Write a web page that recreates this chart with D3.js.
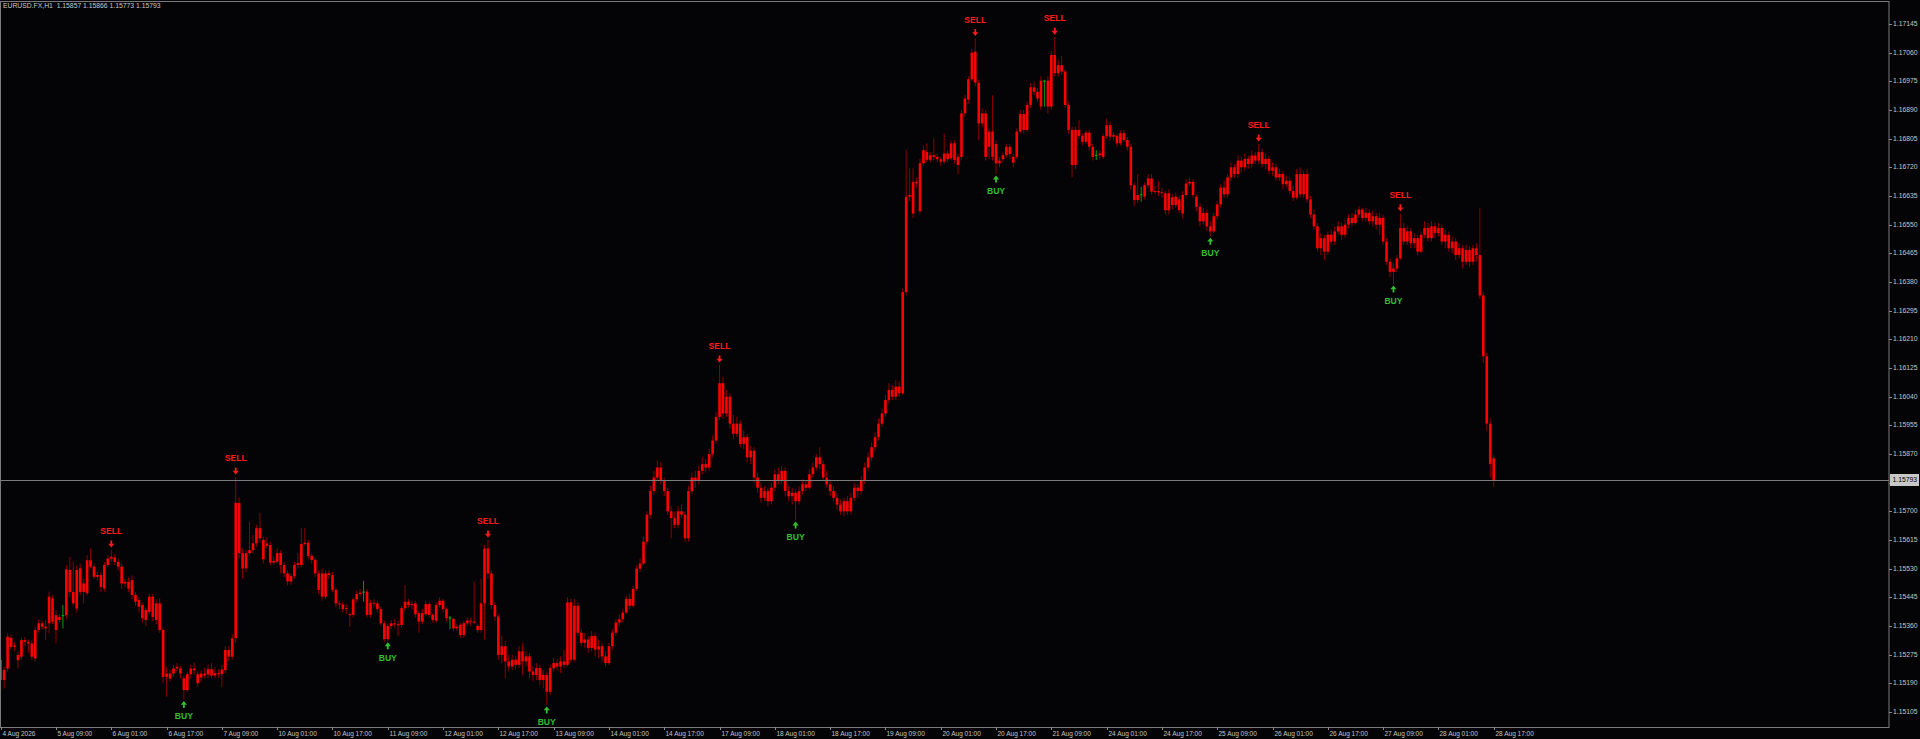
<!DOCTYPE html>
<html><head><meta charset="utf-8">
<script src="https://cdn.jsdelivr.net/npm/d3@7"></script>
<style>html,body{margin:0;padding:0;background:#040406;overflow:hidden}</style>
</head><body><svg id="c" width="1920" height="739"></svg>
<script>
const symbolTitle = "EURUSD.FX,H1  1.15857 1.15866 1.15773 1.15793";
const lastPrice = 1.15793;
const priceTicks = [1.17145,1.17060,1.16975,1.16890,1.16805,1.16720,1.16635,1.16550,1.16465,1.16380,1.16295,1.16210,1.16125,1.16040,1.15955,1.15870,1.15785,1.15700,1.15615,1.15530,1.15445,1.15360,1.15275,1.15190,1.15105];
const timeLabels = ["4 Aug 2026","5 Aug 09:00","6 Aug 01:00","6 Aug 17:00","7 Aug 09:00","10 Aug 01:00","10 Aug 17:00","11 Aug 09:00","12 Aug 01:00","12 Aug 17:00","13 Aug 09:00","14 Aug 01:00","14 Aug 17:00","17 Aug 09:00","18 Aug 01:00","18 Aug 17:00","19 Aug 09:00","20 Aug 01:00","20 Aug 17:00","21 Aug 09:00","24 Aug 01:00","24 Aug 17:00","25 Aug 09:00","26 Aug 01:00","26 Aug 17:00","27 Aug 09:00","28 Aug 01:00","28 Aug 17:00"];
const timeLabelBars = [0,16,32,48,64,80,96,112,128,144,160,176,192,208,224,240,256,272,288,304,320,336,352,368,384,400,416,432];

const opens = [
1.15259,1.15200,1.15234,1.15325,1.15298,1.15274,1.15269,1.15318,1.15313,1.15308,
1.15264,1.15348,1.15368,1.15358,1.15368,1.15442,1.15392,1.15378,1.15390,1.15392,
1.15526,1.15461,1.15412,1.15531,1.15461,1.15457,1.15555,1.15536,1.15506,1.15511,
1.15471,1.15541,1.15560,1.15563,1.15550,1.15536,1.15486,1.15491,1.15452,1.15452,
1.15437,1.15422,1.15378,1.15402,1.15447,1.15378,1.15427,1.15348,1.15209,1.15219,
1.15219,1.15234,1.15234,1.15205,1.15170,1.15217,1.15234,1.15217,1.15207,1.15219,
1.15216,1.15232,1.15213,1.15220,1.15217,1.15229,1.15289,1.15269,1.15324,1.15725,
1.15576,1.15531,1.15576,1.15585,1.15605,1.15650,1.15615,1.15598,1.15600,1.15548,
1.15551,1.15576,1.15541,1.15516,1.15492,1.15508,1.15541,1.15541,1.15603,1.15607,
1.15568,1.15556,1.15516,1.15447,1.15516,1.15511,1.15511,1.15467,1.15427,1.15424,
1.15410,1.15395,1.15393,1.15439,1.15455,1.15459,1.15462,1.15393,1.15429,1.15427,
1.15410,1.15368,1.15321,1.15360,1.15368,1.15365,1.15363,1.15413,1.15432,1.15422,
1.15427,1.15398,1.15373,1.15395,1.15425,1.15393,1.15376,1.15422,1.15435,1.15410,
1.15383,1.15381,1.15353,1.15363,1.15333,1.15368,1.15376,1.15373,1.15360,1.15348,
1.15427,1.15590,1.15516,1.15422,1.15388,1.15274,1.15300,1.15255,1.15240,1.15260,
1.15245,1.15285,1.15255,1.15270,1.15225,1.15215,1.15235,1.15200,1.15215,1.15165,
1.15235,1.15250,1.15240,1.15255,1.15245,1.15430,1.15260,1.15420,1.15340,1.15310,
1.15320,1.15295,1.15330,1.15290,1.15300,1.15270,1.15250,1.15300,1.15340,1.15370,
1.15380,1.15400,1.15440,1.15420,1.15470,1.15530,1.15545,1.15610,1.15690,1.15760,
1.15800,1.15830,1.15790,1.15760,1.15700,1.15680,1.15660,1.15700,1.15690,1.15620,
1.15760,1.15800,1.15790,1.15820,1.15840,1.15830,1.15870,1.15910,1.15980,1.16080,
1.15990,1.16040,1.15960,1.15930,1.15960,1.15900,1.15920,1.15860,1.15880,1.15800,
1.15770,1.15740,1.15760,1.15730,1.15770,1.15810,1.15790,1.15820,1.15760,1.15745,
1.15755,1.15730,1.15760,1.15780,1.15770,1.15810,1.15830,1.15860,1.15840,1.15800,
1.15780,1.15760,1.15740,1.15720,1.15700,1.15730,1.15700,1.15740,1.15770,1.15760,
1.15790,1.15830,1.15860,1.15890,1.15920,1.15960,1.15990,1.16030,1.16060,1.16040,
1.16070,1.16050,1.16350,1.16638,1.16583,1.16677,1.16590,1.16732,1.16766,1.16742,
1.16756,1.16751,1.16744,1.16737,1.16761,1.16747,1.16791,1.16751,1.16751,1.16880,
1.16921,1.16981,1.17063,1.16971,1.16850,1.16880,1.16781,1.16826,1.16789,1.16732,
1.16744,1.16756,1.16781,1.16751,1.16751,1.16826,1.16878,1.16831,1.16905,1.16957,
1.16944,1.16900,1.16977,1.16977,1.16900,1.17053,1.16999,1.17023,1.17004,1.16905,
1.16831,1.16727,1.16831,1.16813,1.16796,1.16823,1.16781,1.16755,1.16756,1.16751,
1.16813,1.16845,1.16811,1.16813,1.16791,1.16821,1.16801,1.16781,1.16667,1.16623,
1.16638,1.16633,1.16667,1.16687,1.16648,1.16650,1.16646,1.16643,1.16593,1.16631,
1.16608,1.16625,1.16583,1.16638,1.16672,1.16677,1.16633,1.16603,1.16560,1.16585,
1.16545,1.16530,1.16575,1.16610,1.16660,1.16640,1.16690,1.16720,1.16700,1.16740,
1.16720,1.16745,1.16730,1.16755,1.16740,1.16765,1.16730,1.16745,1.16710,1.16720,
1.16690,1.16700,1.16670,1.16680,1.16650,1.16630,1.16700,1.16640,1.16700,1.16625,
1.16580,1.16545,1.16480,1.16510,1.16470,1.16520,1.16500,1.16530,1.16545,1.16520,
1.16550,1.16570,1.16555,1.16580,1.16595,1.16570,1.16585,1.16560,1.16575,1.16550,
1.16570,1.16500,1.16440,1.16410,1.16420,1.16450,1.16540,1.16500,1.16530,1.16495,
1.16510,1.16470,1.16520,1.16540,1.16510,1.16545,1.16525,1.16540,1.16500,1.16520,
1.16480,1.16500,1.16460,1.16480,1.16440,1.16475,1.16440,1.16480,1.16460,1.16340,
1.16160,1.15960,1.15857];
const highs = [
1.15275,1.15240,1.15338,1.15335,1.15312,1.15284,1.15325,1.15328,1.15320,1.15318,
1.15358,1.15380,1.15375,1.15378,1.15462,1.15452,1.15407,1.15395,1.15422,1.15540,
1.15565,1.15550,1.15540,1.15545,1.15501,1.15570,1.15590,1.15545,1.15520,1.15520,
1.15550,1.15570,1.15585,1.15572,1.15560,1.15545,1.15500,1.15505,1.15510,1.15460,
1.15445,1.15430,1.15415,1.15455,1.15455,1.15440,1.15442,1.15355,1.15239,1.15230,
1.15245,1.15250,1.15242,1.15212,1.15225,1.15245,1.15252,1.15225,1.15228,1.15235,
1.15245,1.15250,1.15238,1.15232,1.15245,1.15300,1.15300,1.15335,1.15802,1.15740,
1.15590,1.15585,1.15670,1.15630,1.15660,1.15696,1.15625,1.15623,1.15610,1.15565,
1.15590,1.15585,1.15550,1.15525,1.15515,1.15550,1.15576,1.15650,1.15650,1.15615,
1.15575,1.15562,1.15525,1.15530,1.15525,1.15525,1.15520,1.15475,1.15435,1.15432,
1.15425,1.15400,1.15445,1.15465,1.15470,1.15494,1.15470,1.15438,1.15440,1.15435,
1.15418,1.15375,1.15368,1.15378,1.15380,1.15375,1.15420,1.15482,1.15440,1.15435,
1.15435,1.15405,1.15410,1.15435,1.15432,1.15398,1.15430,1.15445,1.15440,1.15415,
1.15390,1.15385,1.15365,1.15370,1.15375,1.15385,1.15385,1.15492,1.15365,1.15500,
1.15600,1.15615,1.15525,1.15430,1.15395,1.15330,1.15315,1.15275,1.15275,1.15270,
1.15300,1.15310,1.15285,1.15280,1.15240,1.15250,1.15245,1.15230,1.15225,1.15245,
1.15265,1.15262,1.15270,1.15290,1.15445,1.15440,1.15440,1.15430,1.15350,1.15340,
1.15330,1.15345,1.15340,1.15320,1.15310,1.15285,1.15310,1.15350,1.15380,1.15395,
1.15410,1.15450,1.15455,1.15480,1.15540,1.15560,1.15625,1.15700,1.15775,1.15820,
1.15850,1.15845,1.15800,1.15770,1.15715,1.15700,1.15715,1.15720,1.15700,1.15775,
1.15815,1.15820,1.15835,1.15860,1.15855,1.15885,1.15925,1.15995,1.16134,1.16100,
1.16060,1.16050,1.15985,1.15980,1.15970,1.15940,1.15930,1.15895,1.15890,1.15815,
1.15785,1.15775,1.15770,1.15785,1.15825,1.15830,1.15835,1.15830,1.15775,1.15770,
1.15765,1.15775,1.15795,1.15790,1.15825,1.15845,1.15870,1.15890,1.15850,1.15820,
1.15795,1.15775,1.15755,1.15735,1.15740,1.15745,1.15755,1.15785,1.15780,1.15805,
1.15845,1.15875,1.15905,1.15935,1.15975,1.16005,1.16045,1.16080,1.16075,1.16090,
1.16085,1.16360,1.16773,1.16717,1.16717,1.16690,1.16745,1.16785,1.16791,1.16765,
1.16806,1.16760,1.16750,1.16821,1.16770,1.16800,1.16800,1.16760,1.16890,1.16935,
1.16990,1.17070,1.17102,1.16980,1.16895,1.16890,1.16835,1.16934,1.16800,1.16750,
1.16765,1.16790,1.16790,1.16760,1.16835,1.16890,1.16890,1.16915,1.16970,1.16975,
1.16955,1.16990,1.16979,1.16990,1.17065,1.17106,1.17040,1.17050,1.17010,1.16915,
1.16840,1.16840,1.16860,1.16820,1.16830,1.16830,1.16790,1.16771,1.16770,1.16820,
1.16865,1.16855,1.16825,1.16820,1.16830,1.16830,1.16810,1.16790,1.16675,1.16700,
1.16663,1.16675,1.16700,1.16700,1.16665,1.16680,1.16660,1.16650,1.16655,1.16640,
1.16645,1.16635,1.16650,1.16685,1.16690,1.16685,1.16640,1.16615,1.16600,1.16595,
1.16560,1.16585,1.16620,1.16670,1.16680,1.16700,1.16735,1.16730,1.16755,1.16750,
1.16760,1.16755,1.16770,1.16765,1.16789,1.16775,1.16760,1.16755,1.16735,1.16730,
1.16715,1.16710,1.16695,1.16690,1.16665,1.16715,1.16720,1.16710,1.16715,1.16635,
1.16595,1.16555,1.16525,1.16520,1.16530,1.16535,1.16545,1.16560,1.16555,1.16565,
1.16580,1.16585,1.16595,1.16605,1.16600,1.16600,1.16595,1.16590,1.16585,1.16585,
1.16580,1.16510,1.16450,1.16435,1.16460,1.16582,1.16555,1.16545,1.16540,1.16525,
1.16520,1.16530,1.16560,1.16555,1.16560,1.16555,1.16555,1.16550,1.16535,1.16530,
1.16515,1.16510,1.16495,1.16490,1.16490,1.16485,1.16490,1.16495,1.16600,1.16350,
1.16170,1.15975,1.15866];
const lows = [
1.15165,1.15175,1.15225,1.15290,1.15285,1.15234,1.15260,1.15300,1.15280,1.15260,
1.15255,1.15340,1.15350,1.15318,1.15338,1.15365,1.15308,1.15370,1.15353,1.15380,
1.15447,1.15420,1.15400,1.15450,1.15427,1.15450,1.15530,1.15500,1.15495,1.15460,
1.15462,1.15535,1.15550,1.15540,1.15525,1.15470,1.15475,1.15460,1.15440,1.15420,
1.15400,1.15370,1.15360,1.15395,1.15375,1.15365,1.15340,1.15190,1.15150,1.15195,
1.15210,1.15225,1.15205,1.15142,1.15165,1.15205,1.15215,1.15180,1.15195,1.15205,
1.15205,1.15205,1.15205,1.15206,1.15180,1.15220,1.15255,1.15260,1.15310,1.15560,
1.15501,1.15520,1.15570,1.15575,1.15595,1.15610,1.15545,1.15590,1.15540,1.15540,
1.15545,1.15516,1.15505,1.15480,1.15482,1.15500,1.15530,1.15535,1.15598,1.15560,
1.15545,1.15505,1.15455,1.15435,1.15440,1.15500,1.15460,1.15415,1.15410,1.15400,
1.15395,1.15358,1.15385,1.15430,1.15448,1.15432,1.15385,1.15385,1.15415,1.15400,
1.15360,1.15312,1.15316,1.15350,1.15355,1.15330,1.15355,1.15405,1.15415,1.15410,
1.15385,1.15340,1.15365,1.15390,1.15385,1.15370,1.15370,1.15415,1.15400,1.15375,
1.15351,1.15345,1.15345,1.15325,1.15325,1.15360,1.15360,1.15365,1.15340,1.15340,
1.15320,1.15500,1.15410,1.15375,1.15260,1.15250,1.15205,1.15225,1.15230,1.15232,
1.15235,1.15215,1.15240,1.15205,1.15195,1.15200,1.15185,1.15175,1.15126,1.15155,
1.15225,1.15228,1.15220,1.15235,1.15240,1.15250,1.15255,1.15330,1.15300,1.15295,
1.15280,1.15285,1.15270,1.15265,1.15255,1.15240,1.15245,1.15290,1.15330,1.15360,
1.15370,1.15395,1.15410,1.15415,1.15465,1.15520,1.15540,1.15600,1.15680,1.15750,
1.15790,1.15780,1.15745,1.15690,1.15620,1.15650,1.15650,1.15680,1.15610,1.15610,
1.15750,1.15770,1.15780,1.15810,1.15815,1.15820,1.15860,1.15900,1.15970,1.15975,
1.15980,1.15945,1.15915,1.15920,1.15890,1.15885,1.15845,1.15840,1.15785,1.15755,
1.15725,1.15730,1.15715,1.15720,1.15760,1.15780,1.15780,1.15745,1.15730,1.15720,
1.15674,1.15720,1.15750,1.15760,1.15765,1.15800,1.15820,1.15825,1.15790,1.15770,
1.15745,1.15730,1.15705,1.15690,1.15685,1.15690,1.15690,1.15730,1.15740,1.15750,
1.15780,1.15820,1.15850,1.15880,1.15910,1.15950,1.15980,1.16020,1.16030,1.16030,
1.16040,1.16045,1.16340,1.16620,1.16570,1.16660,1.16583,1.16725,1.16735,1.16735,
1.16740,1.16735,1.16725,1.16730,1.16735,1.16740,1.16730,1.16700,1.16740,1.16870,
1.16910,1.16975,1.16960,1.16800,1.16840,1.16740,1.16745,1.16740,1.16700,1.16720,
1.16735,1.16750,1.16745,1.16720,1.16745,1.16820,1.16820,1.16825,1.16895,1.16935,
1.16915,1.16890,1.16900,1.16880,1.16890,1.16990,1.16990,1.16995,1.16895,1.16820,
1.16690,1.16715,1.16805,1.16785,1.16790,1.16770,1.16740,1.16742,1.16745,1.16745,
1.16805,1.16800,1.16800,1.16780,1.16785,1.16795,1.16770,1.16655,1.16605,1.16615,
1.16618,1.16625,1.16660,1.16640,1.16640,1.16635,1.16630,1.16580,1.16580,1.16595,
1.16600,1.16585,1.16570,1.16630,1.16665,1.16630,1.16590,1.16545,1.16550,1.16530,
1.16516,1.16525,1.16565,1.16600,1.16630,1.16630,1.16680,1.16690,1.16690,1.16705,
1.16710,1.16715,1.16720,1.16730,1.16730,1.16720,1.16715,1.16700,1.16695,1.16680,
1.16680,1.16655,1.16660,1.16640,1.16620,1.16625,1.16630,1.16630,1.16615,1.16570,
1.16535,1.16470,1.16460,1.16445,1.16460,1.16490,1.16490,1.16520,1.16505,1.16510,
1.16540,1.16545,1.16550,1.16570,1.16560,1.16560,1.16550,1.16545,1.16535,1.16520,
1.16490,1.16430,1.16395,1.16374,1.16410,1.16445,1.16490,1.16490,1.16480,1.16480,
1.16460,1.16465,1.16510,1.16500,1.16500,1.16510,1.16515,1.16490,1.16480,1.16470,
1.16465,1.16445,1.16450,1.16420,1.16430,1.16425,1.16430,1.16440,1.16330,1.16140,
1.15940,1.15800,1.15773];
const closes = [
1.15200,1.15230,1.15328,1.15298,1.15303,1.15259,1.15318,1.15313,1.15308,1.15269,
1.15348,1.15368,1.15358,1.15353,1.15447,1.15373,1.15348,1.15387,1.15392,1.15528,
1.15461,1.15427,1.15526,1.15461,1.15486,1.15555,1.15536,1.15506,1.15511,1.15476,
1.15541,1.15560,1.15565,1.15550,1.15536,1.15486,1.15491,1.15471,1.15496,1.15432,
1.15417,1.15383,1.15407,1.15447,1.15387,1.15427,1.15348,1.15209,1.15219,1.15204,
1.15234,1.15239,1.15219,1.15170,1.15217,1.15234,1.15229,1.15190,1.15219,1.15213,
1.15232,1.15213,1.15220,1.15217,1.15231,1.15289,1.15269,1.15323,1.15725,1.15576,
1.15531,1.15576,1.15585,1.15605,1.15650,1.15620,1.15558,1.15604,1.15548,1.15553,
1.15576,1.15541,1.15516,1.15492,1.15508,1.15541,1.15546,1.15603,1.15607,1.15568,
1.15556,1.15516,1.15467,1.15516,1.15447,1.15516,1.15467,1.15427,1.15424,1.15410,
1.15413,1.15393,1.15439,1.15455,1.15459,1.15462,1.15393,1.15429,1.15427,1.15410,
1.15368,1.15321,1.15360,1.15368,1.15365,1.15363,1.15413,1.15432,1.15422,1.15425,
1.15395,1.15373,1.15398,1.15425,1.15393,1.15378,1.15422,1.15435,1.15410,1.15383,
1.15385,1.15353,1.15358,1.15333,1.15368,1.15376,1.15373,1.15370,1.15348,1.15427,
1.15590,1.15516,1.15422,1.15388,1.15274,1.15300,1.15255,1.15240,1.15260,1.15245,
1.15285,1.15255,1.15270,1.15225,1.15215,1.15235,1.15200,1.15215,1.15165,1.15235,
1.15250,1.15240,1.15255,1.15245,1.15430,1.15260,1.15420,1.15340,1.15310,1.15320,
1.15295,1.15330,1.15290,1.15300,1.15270,1.15250,1.15300,1.15340,1.15370,1.15380,
1.15400,1.15440,1.15420,1.15470,1.15530,1.15545,1.15610,1.15690,1.15760,1.15800,
1.15830,1.15790,1.15760,1.15700,1.15680,1.15660,1.15700,1.15690,1.15620,1.15760,
1.15800,1.15790,1.15820,1.15840,1.15830,1.15870,1.15910,1.15980,1.16080,1.15990,
1.16040,1.15960,1.15930,1.15960,1.15900,1.15920,1.15860,1.15880,1.15800,1.15770,
1.15740,1.15760,1.15730,1.15770,1.15810,1.15790,1.15820,1.15760,1.15745,1.15755,
1.15730,1.15760,1.15780,1.15770,1.15810,1.15830,1.15860,1.15840,1.15800,1.15780,
1.15760,1.15740,1.15720,1.15700,1.15730,1.15700,1.15740,1.15770,1.15760,1.15790,
1.15830,1.15860,1.15890,1.15920,1.15960,1.15990,1.16030,1.16060,1.16040,1.16070,
1.16050,1.16350,1.16633,1.16633,1.16677,1.16672,1.16732,1.16771,1.16742,1.16756,
1.16751,1.16744,1.16737,1.16761,1.16744,1.16791,1.16742,1.16727,1.16880,1.16924,
1.16981,1.17060,1.16971,1.16850,1.16880,1.16751,1.16826,1.16751,1.16732,1.16740,
1.16756,1.16781,1.16759,1.16734,1.16826,1.16878,1.16831,1.16905,1.16957,1.16944,
1.16924,1.16977,1.16975,1.16900,1.17053,1.16999,1.17023,1.17004,1.16905,1.16831,
1.16727,1.16831,1.16813,1.16796,1.16823,1.16781,1.16751,1.16757,1.16761,1.16813,
1.16845,1.16811,1.16816,1.16791,1.16821,1.16801,1.16781,1.16667,1.16623,1.16638,
1.16640,1.16667,1.16687,1.16648,1.16650,1.16646,1.16643,1.16593,1.16643,1.16608,
1.16633,1.16593,1.16638,1.16672,1.16677,1.16638,1.16603,1.16560,1.16585,1.16545,
1.16530,1.16575,1.16610,1.16660,1.16640,1.16690,1.16720,1.16700,1.16740,1.16720,
1.16745,1.16730,1.16755,1.16740,1.16765,1.16730,1.16745,1.16710,1.16720,1.16690,
1.16700,1.16670,1.16680,1.16650,1.16630,1.16700,1.16640,1.16700,1.16625,1.16580,
1.16545,1.16480,1.16510,1.16470,1.16520,1.16500,1.16530,1.16545,1.16520,1.16550,
1.16570,1.16555,1.16580,1.16595,1.16570,1.16585,1.16560,1.16575,1.16550,1.16570,
1.16500,1.16440,1.16410,1.16420,1.16450,1.16540,1.16500,1.16530,1.16495,1.16510,
1.16470,1.16520,1.16540,1.16510,1.16545,1.16525,1.16540,1.16500,1.16520,1.16480,
1.16500,1.16460,1.16480,1.16440,1.16475,1.16440,1.16480,1.16460,1.16340,1.16160,
1.15960,1.15840,1.15793];
const greenBars = [18,105,130,302,317,330];
const sellBars = [32,68,141,208,282,305,364,405];
const buyBars = [53,112,158,230,288,350,403];

// ---------- drawing ----------
const W = 1920, H = 739;
const plotRight = 1889, plotBottom = 727;
const svg = d3.select("#c");
const n = closes.length;
const candles = d3.range(n).map(i => ({i, o: opens[i], h: highs[i], l: lows[i], c: closes[i], g: greenBars.includes(i)}));

const x = d3.scaleLinear().domain([0, 432]).range([0.7, 0.7 + 432 * 3.456]);
const y = d3.scaleLinear().domain([1.15105, 1.17145]).range([712, 24]);

svg.append("rect").attr("width", W).attr("height", H).attr("fill", "#040406");

const clip = svg.append("defs").append("clipPath").attr("id", "pc");
clip.append("rect").attr("x", 0).attr("y", 1).attr("width", plotRight).attr("height", plotBottom - 1);
const plot = svg.append("g").attr("clip-path", "url(#pc)");

// wicks
plot.append("g").selectAll("line").data(candles).join("line")
  .attr("x1", d => x(d.i)).attr("x2", d => x(d.i))
  .attr("y1", d => y(d.h)).attr("y2", d => y(d.l))
  .attr("stroke", d => d.g ? "#0a9a0a" : "#8c0000").attr("stroke-width", 1);
// bodies
plot.append("g").selectAll("rect").data(candles.filter(d => !d.g)).join("rect")
  .attr("x", d => x(d.i) - 1.3).attr("width", 2.6)
  .attr("y", d => y(Math.max(d.o, d.c)))
  .attr("height", d => Math.max(1, Math.abs(y(d.o) - y(d.c))))
  .attr("fill", "#ff0000");
plot.append("g").selectAll("rect").data(candles.filter(d => d.g)).join("rect")
  .attr("x", d => x(d.i) - 1.3).attr("width", 2.6)
  .attr("y", d => y(Math.max(d.o, d.c)))
  .attr("height", d => Math.max(1, Math.abs(y(d.o) - y(d.c))))
  .attr("fill", "#10b010");

// price line
plot.append("line").attr("x1", 0).attr("x2", plotRight)
  .attr("y1", Math.round(y(lastPrice)) + 0.5).attr("y2", Math.round(y(lastPrice)) + 0.5)
  .attr("stroke", "#7c7c7c").attr("stroke-width", 1);

// signals
const sig = plot.append("g");
sellBars.forEach(i => {
  const cx = x(i), hy = y(highs[i]);
  const ay = hy - 5;
  sig.append("path").attr("d", `M${cx - 0.9},${ay - 4.5}h1.8v3.2h2.2l-3.1,3.8l-3.1,-3.8h2.2z`).attr("fill", "#ff1a1a");
  sig.append("text").attr("x", cx).attr("y", hy - 18).attr("text-anchor", "middle").attr("dominant-baseline", "middle")
    .attr("font-family", "Liberation Sans, Arial, sans-serif").attr("font-weight", "bold").attr("font-size", 8.6)
    .attr("fill", "#ff1a1a").text("SELL");
});
buyBars.forEach(i => {
  const cx = x(i), ly = y(lows[i]);
  const ay = ly + 4;
  sig.append("path").attr("d", `M${cx - 0.9},${ay + 4.5}h1.8v-3.2h2.2l-3.1,-3.8l-3.1,3.8h2.2z`).attr("fill", "#2fbf2f");
  sig.append("text").attr("x", cx).attr("y", ly + 17.5).attr("text-anchor", "middle").attr("dominant-baseline", "middle")
    .attr("font-family", "Liberation Sans, Arial, sans-serif").attr("font-weight", "bold").attr("font-size", 8.6)
    .attr("fill", "#2fbf2f").text("BUY");
});

// border
svg.append("rect").attr("x", 0.5).attr("y", 1.5).attr("width", plotRight - 0.5).attr("height", plotBottom - 1)
  .attr("fill", "none").attr("stroke", "#7a7a7a").attr("stroke-width", 1);

// price axis
const ya = svg.append("g");
priceTicks.forEach(p => {
  const yy = Math.round(y(p)) + 0.5;
  ya.append("line").attr("x1", plotRight).attr("x2", plotRight + 3).attr("y1", yy).attr("y2", yy).attr("stroke", "#8a8a8a");
  ya.append("text").attr("x", plotRight + 4).attr("y", yy).attr("dominant-baseline", "middle")
    .attr("font-family", "Liberation Sans, Arial, sans-serif").attr("font-size", 6.8).attr("fill", "#c4c4c4")
    .text(p.toFixed(5));
});
const ly0 = Math.round(y(lastPrice));
ya.append("rect").attr("x", plotRight + 1).attr("y", ly0 - 6).attr("width", 29).attr("height", 12).attr("fill", "#c8c8c8");
ya.append("text").attr("x", plotRight + 3.5).attr("y", ly0 + 0.5).attr("dominant-baseline", "middle")
  .attr("font-family", "Liberation Sans, Arial, sans-serif").attr("font-size", 6.8).attr("fill", "#000")
  .text(lastPrice.toFixed(5));

// time axis
const xa = svg.append("g");
timeLabels.forEach((t, k) => {
  const xx = Math.round(x(timeLabelBars[k])) + 0.5;
  xa.append("line").attr("x1", xx).attr("x2", xx).attr("y1", plotBottom).attr("y2", plotBottom + 3).attr("stroke", "#8a8a8a");
  xa.append("text").attr("x", xx + 1).attr("y", plotBottom + 7).attr("dominant-baseline", "middle")
    .attr("font-family", "Liberation Sans, Arial, sans-serif").attr("font-size", 6.5).attr("fill", "#c4c4c4")
    .text(t);
});

// header
svg.append("text").attr("x", 3).attr("y", 6.5).attr("dominant-baseline", "middle")
  .attr("font-family", "Liberation Sans, Arial, sans-serif").attr("font-size", 6.8).attr("fill", "#c8c8c8")
  .attr("xml:space", "preserve").style("white-space", "pre").text(symbolTitle);
</script></body></html>
